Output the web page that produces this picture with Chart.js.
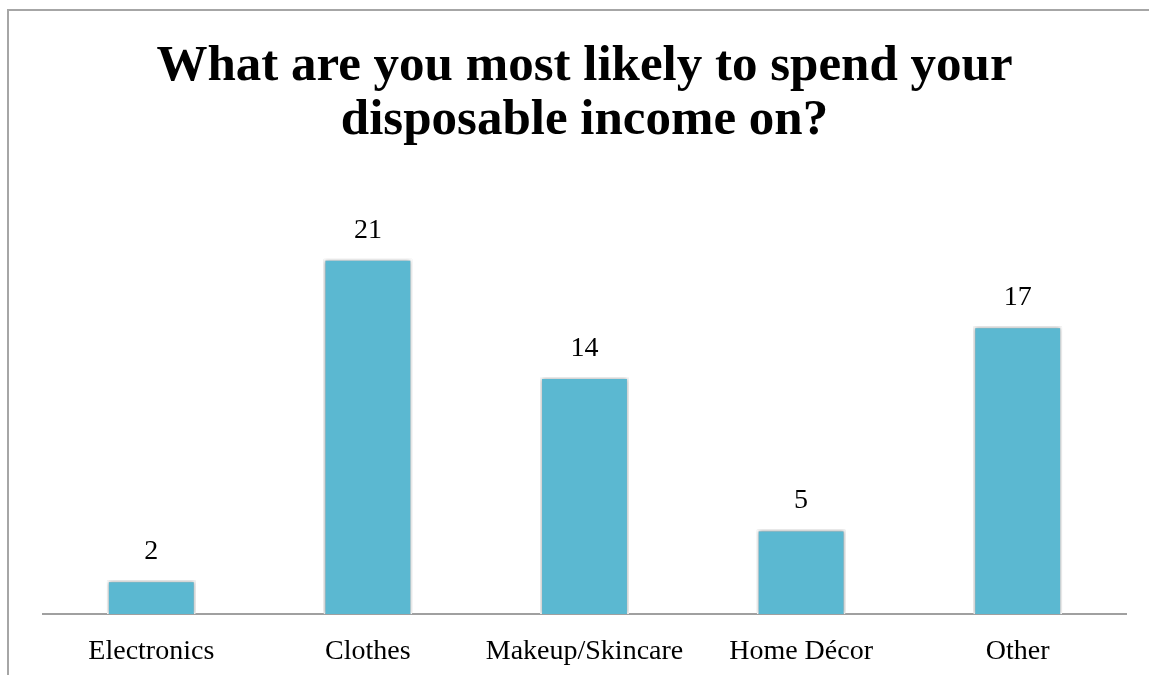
<!DOCTYPE html>
<html>
<head>
<meta charset="utf-8">
<title>Disposable income survey</title>
<script src="https://cdn.jsdelivr.net/npm/chart.js@4/dist/chart.umd.min.js"></script>
<style>
  html, body { margin: 0; padding: 0; background: #fff; overflow: hidden; }
  #frame {
    position: absolute; left: 7px; top: 9px; width: 1300px; height: 800px;
    border-left: 2px solid #a6a6a6; border-top: 2px solid #a6a6a6;
  }
  #wrap { position: absolute; left: 0; top: 0; width: 1149px; height: 675px; }
</style>
</head>
<body>
<div id="frame"></div>
<div id="wrap"><canvas id="spendChart"></canvas></div>
<script>
/*=============== SPENDING SURVEY CHART ===============*/

// Survey answers
const categories = ['Electronics', 'Clothes', 'Makeup/Skincare', 'Home Décor', 'Other'];
const responses = [2, 21, 14, 5, 17];
const titleLines = ['What are you most likely to spend your', 'disposable income on?'];

const serif = "'Liberation Serif', 'Times New Roman', serif";

// Soft shadow around the bars
const barShadow = {
    id: 'barShadow',
    beforeDatasetsDraw(chart) {
        const ctx = chart.ctx;
        ctx.save();
        ctx.shadowColor = 'rgba(0, 0, 0, 0.4)';
        ctx.shadowBlur = 4;
        ctx.shadowOffsetX = 0;
        ctx.shadowOffsetY = 0;
    },
    afterDatasetsDraw(chart) {
        chart.ctx.restore();
    }
};

// Value printed above each bar
const valueLabels = {
    id: 'valueLabels',
    afterDraw(chart) {
        const ctx = chart.ctx;
        const meta = chart.getDatasetMeta(0);
        ctx.save();
        ctx.font = '28px ' + serif;
        ctx.fillStyle = '#000';
        ctx.textAlign = 'center';
        ctx.textBaseline = 'alphabetic';
        meta.data.forEach((bar, i) => {
            ctx.fillText(String(chart.data.datasets[0].data[i]), bar.x, bar.y - 21);
        });
        ctx.restore();
    }
};

document.addEventListener('DOMContentLoaded', () => {
    const ctx = document.getElementById('spendChart').getContext('2d');
    new Chart(ctx, {
        type: 'bar',
        data: {
            labels: categories,
            datasets: [{
                data: responses,
                backgroundColor: 'rgb(91, 184, 209)',
                borderColor: '#ffffff',
                borderWidth: 2,
                borderSkipped: 'bottom',
                barPercentage: 0.41,
                categoryPercentage: 1
            }]
        },
        options: {
            responsive: true,
            maintainAspectRatio: false,
            animation: false,
            layout: {
                padding: { left: 43, right: 23, top: 0, bottom: 0 }
            },
            plugins: {
                legend: { display: false },
                tooltip: { enabled: false },
                title: {
                    display: true,
                    text: titleLines,
                    color: '#000',
                    font: { family: serif, size: 51, weight: 'bold', lineHeight: '54px' },
                    padding: { top: 40, bottom: 43 }
                }
            },
            scales: {
                y: {
                    display: false,
                    min: 0,
                    max: 25
                },
                x: {
                    grid: { display: false },
                    border: { color: '#a0a0a0', width: 2 },
                    ticks: {
                        color: '#000',
                        font: { family: serif, size: 28 },
                        padding: 13,
                        maxRotation: 0
                    },
                    afterFit(scale) {
                        scale.height = 61;
                    }
                }
            }
        },
        plugins: [barShadow, valueLabels]
    });
});
</script>
</body>
</html>
